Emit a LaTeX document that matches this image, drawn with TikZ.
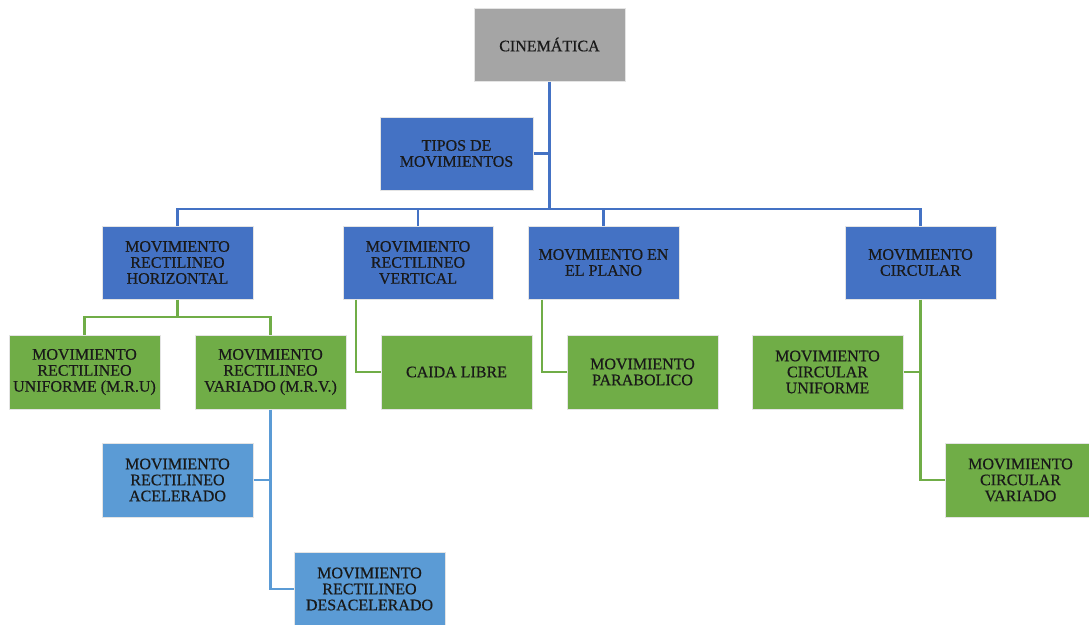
\documentclass[tikz,border=0pt]{standalone}
\usepackage{fontspec}
\setmainfont{Liberation Serif}
\newfontfamily\boxfont{Liberation Serif}[FakeBold=0.5]
\definecolor{cgray}{HTML}{A5A5A5}
\definecolor{cblue}{HTML}{4472C4}
\definecolor{cgreen}{HTML}{70AD47}
\definecolor{clblue}{HTML}{5B9BD5}
\definecolor{cedge}{HTML}{E4E4E4}
\tikzset{
  box/.style={rectangle, draw=cedge, line width=1pt, minimum width=151pt, minimum height=73pt,
    align=center, inner sep=2pt, text=black!90,
    font=\boxfont\fontsize{16}{16}\selectfont},
  graybox/.style={box, fill=cgray},
  bluebox/.style={box, fill=cblue},
  greenbox/.style={box, fill=cgreen},
  lbbox/.style={box, fill=clblue},
  bline/.style={draw=cblue, line width=2.8pt},
  gline/.style={draw=cgreen, line width=2.8pt},
  lbline/.style={draw=clblue, line width=2.8pt},
}
\begin{document}
\begin{tikzpicture}[x=1pt,y=-1pt]
\useasboundingbox (0,0) rectangle (1089,624);
\node[graybox] (cin) at (549.5,44.5) {CINEMÁTICA};
\node[bluebox, minimum width=153pt] (tipos) at (456.5,153.5) {TIPOS DE\\MOVIMIENTOS};
\node[bluebox] (mrh) at (177.5,262.5) {MOVIMIENTO\\RECTILINEO\\HORIZONTAL};
\node[bluebox, minimum width=150pt] (mrv) at (418,262.5) {MOVIMIENTO\\RECTILINEO\\VERTICAL};
\node[bluebox] (mep) at (603.5,262.5) {MOVIMIENTO EN\\EL PLANO};
\node[bluebox] (mc) at (920.5,262.5) {MOVIMIENTO\\CIRCULAR};
\node[greenbox, minimum height=74pt] (mru) at (84.5,372) {MOVIMIENTO\\RECTILINEO\\UNIFORME (M.R.U)};
\node[greenbox, minimum height=74pt] (mrva) at (270.5,372) {MOVIMIENTO\\RECTILINEO\\VARIADO (M.R.V.)};
\node[greenbox, minimum height=74pt] (cl) at (456.5,372) {CAIDA LIBRE};
\node[greenbox, minimum height=74pt] (mp) at (642.5,372) {MOVIMIENTO\\PARABOLICO};
\node[greenbox, minimum height=74pt] (mcu) at (827.5,372) {MOVIMIENTO\\CIRCULAR\\UNIFORME};
\node[greenbox, minimum height=74pt] (mcv) at (1020.5,480) {MOVIMIENTO\\CIRCULAR\\VARIADO};
\node[lbbox, minimum height=74pt] (acel) at (177.5,480) {MOVIMIENTO\\RECTILINEO\\ACELERADO};
\node[lbbox, minimum height=74pt] (desac) at (369.5,589) {MOVIMIENTO\\RECTILINEO\\DESACELERADO};
% blue connectors
\coordinate (bar) at (0,209);
\draw[bline] (cin.south) -- (cin.south |- bar);
\draw[bline] (tipos.east) -- (tipos.east -| cin.south);
\draw[bline] (mrh.north) -- (mrh.north |- bar) -- (mc.north |- bar) -- (mc.north);
\draw[bline] (mrv.north) -- (mrv.north |- bar);
\draw[bline] (mep.north) -- (mep.north |- bar);
% green connectors
\coordinate (gbar) at (0,317);
\draw[gline] (mrh.south) -- (mrh.south |- gbar);
\draw[gline] (mru.north) -- (mru.north |- gbar) -- (mrva.north |- gbar) -- (mrva.north);
\draw[gline] ([xshift=-62pt]mrv.south) |- (cl.west);
\draw[gline] ([xshift=-61.5pt]mep.south) |- (mp.west);
\draw[gline] (mc.south) |- (mcv.west);
\draw[gline] (mcu.east) -- (mcu.east -| mc.south);
% light blue connectors
\draw[lbline] (mrva.south) |- (desac.west);
\draw[lbline] (acel.east) -- (acel.east -| mrva.south);
\end{tikzpicture}
\end{document}
